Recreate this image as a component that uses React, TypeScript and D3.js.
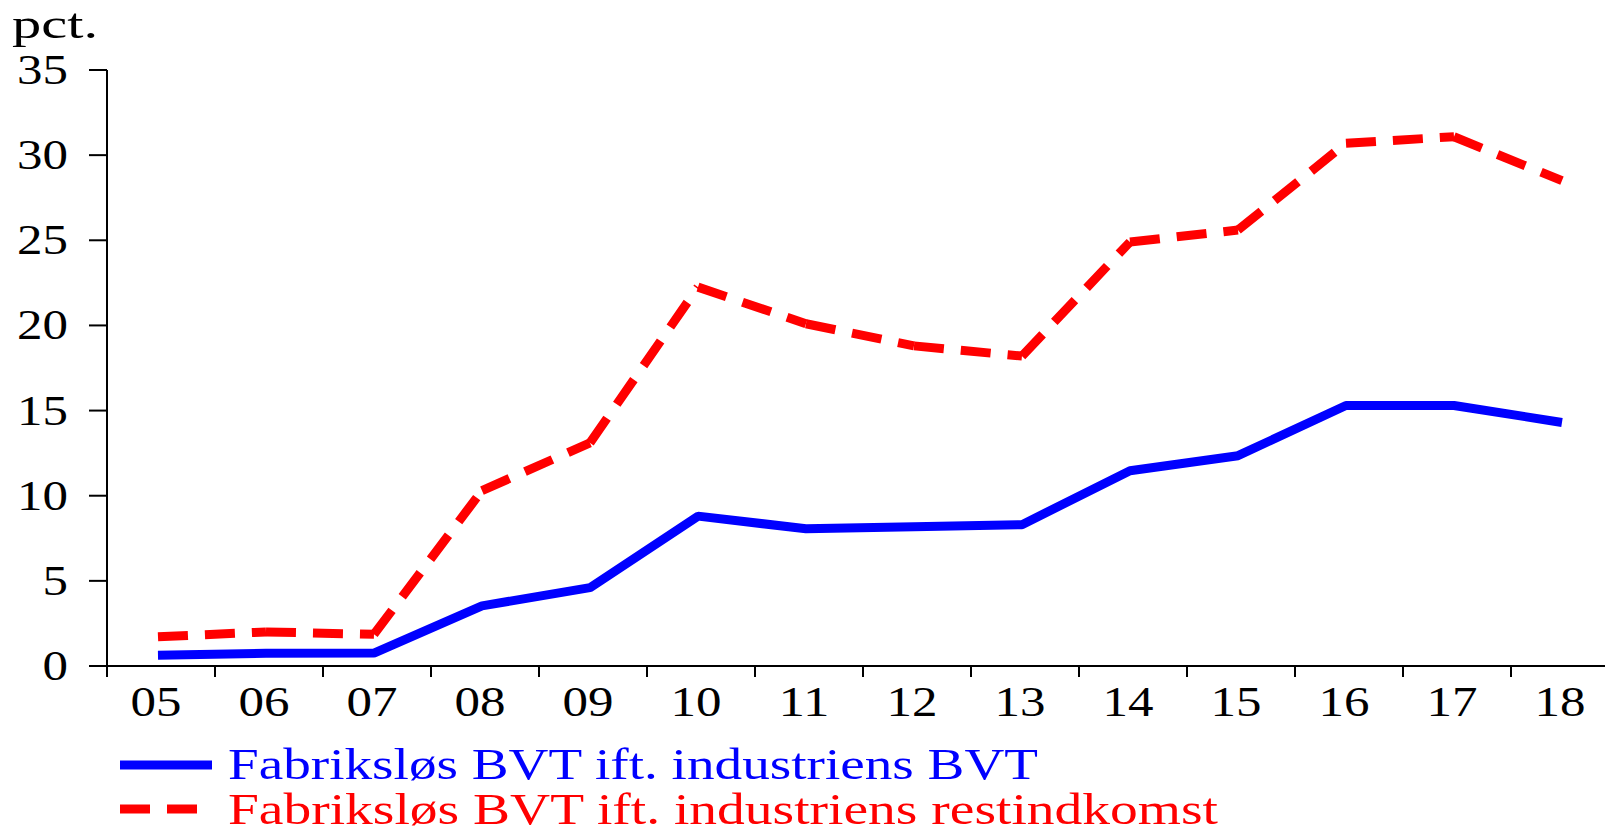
import React, { useEffect, useRef } from 'react'
import * as d3 from 'd3'

const years = ['05', '06', '07', '08', '09', '10', '11', '12', '13', '14', '15', '16', '17', '18']
const bvtShare = [0.63, 0.75, 0.76, 3.53, 4.6, 8.8, 8.06, 8.18, 8.3, 11.47, 12.35, 15.3, 15.3, 14.3]
const restShare = [1.72, 2.0, 1.86, 10.3, 13.1, 22.25, 20.1, 18.8, 18.2, 24.9, 25.6, 30.7, 31.08, 28.5]
const yTicks = [0, 5, 10, 15, 20, 25, 30, 35]
const seriesNames = ['Fabriksløs BVT ift. industriens BVT', 'Fabriksløs BVT ift. industriens restindkomst']

const W = 1605
const H = 830
const FONT = '"Liberation Serif", "Times New Roman", serif'

export default function App() {
  const ref = useRef<SVGSVGElement>(null)

  useEffect(() => {
    const svg = d3.select(ref.current)
    svg.selectAll('*').remove()

    const x = d3.scaleBand().domain(years).range([107, 107 + 14 * 108]).padding(0)
    const px = (d: string) => (x(d) as number) + x.bandwidth() * 0.472
    const y = d3.scaleLinear().domain([0, 35]).range([666, 70])

    // y axis
    svg.append('line')
      .attr('x1', 107).attr('x2', 107)
      .attr('y1', y(35)).attr('y2', 677)
      .attr('stroke', '#000').attr('stroke-width', 2)
    yTicks.forEach(t => {
      svg.append('line')
        .attr('x1', 89).attr('x2', 107)
        .attr('y1', y(t)).attr('y2', y(t))
        .attr('stroke', '#000').attr('stroke-width', 2)
      const lbl = String(t)
      const w = lbl.length * 25.5
      svg.append('text')
        .attr('x', 68 - w).attr('y', y(t) + 14)
        .attr('textLength', w).attr('lengthAdjust', 'spacingAndGlyphs')
        .style('font-family', FONT).style('font-size', '42px')
        .text(lbl)
    })

    svg.append('text')
      .attr('x', 12).attr('y', 38)
      .attr('textLength', 86).attr('lengthAdjust', 'spacingAndGlyphs')
      .style('font-family', FONT).style('font-size', '42px')
      .text('pct.')

    // x axis
    svg.append('line')
      .attr('x1', 107).attr('x2', W)
      .attr('y1', 666).attr('y2', 666)
      .attr('stroke', '#000').attr('stroke-width', 2)
    years.forEach(d => {
      const x0 = x(d) as number
      if (x0 > 107) {
        svg.append('line')
          .attr('x1', x0).attr('x2', x0)
          .attr('y1', 666).attr('y2', 677)
          .attr('stroke', '#000').attr('stroke-width', 2)
      }
      svg.append('text')
        .attr('x', px(d) - 2 - 25.5).attr('y', 716)
        .attr('textLength', 51).attr('lengthAdjust', 'spacingAndGlyphs')
        .style('font-family', FONT).style('font-size', '42px')
        .text(d)
    })

    const line = d3.line<[number, number]>().x(p => p[0]).y(p => p[1])

    // blue solid
    const bluePts: [number, number][] = years.map((d, i) => [px(d), y(bvtShare[i])])
    svg.append('path')
      .attr('d', line(bluePts))
      .attr('fill', 'none').attr('stroke', '#0000ff')
      .attr('stroke-width', 9).attr('stroke-linejoin', 'bevel')

    // red dashed, dash pattern restarts at each segment
    const redPts: [number, number][] = years.map((d, i) => [px(d), y(restShare[i])])
    for (let i = 0; i < redPts.length - 1; i++) {
      svg.append('path')
        .attr('d', line([redPts[i], redPts[i + 1]]))
        .attr('fill', 'none').attr('stroke', '#ff0000')
        .attr('stroke-width', 9).attr('stroke-dasharray', '30,17')
    }

    // legend
    svg.append('line')
      .attr('x1', 120).attr('x2', 212).attr('y1', 765).attr('y2', 765)
      .attr('stroke', '#0000ff').attr('stroke-width', 9)
    svg.append('text')
      .attr('x', 228).attr('y', 779)
      .attr('textLength', 810).attr('lengthAdjust', 'spacingAndGlyphs')
      .style('font-family', FONT).style('font-size', '45px').style('fill', '#0000ff')
      .text(seriesNames[0])
    svg.append('line')
      .attr('x1', 120).attr('x2', 212).attr('y1', 809).attr('y2', 809)
      .attr('stroke', '#ff0000').attr('stroke-width', 9).attr('stroke-dasharray', '30,17')
    svg.append('text')
      .attr('x', 228).attr('y', 824)
      .attr('textLength', 990).attr('lengthAdjust', 'spacingAndGlyphs')
      .style('font-family', FONT).style('font-size', '45px').style('fill', '#ff0000')
      .text(seriesNames[1])
  }, [])

  return (
    <svg ref={ref} width={W} height={H}
      style={{ position: 'absolute', left: 0, top: 0, background: '#fff' }} />
  )
}
